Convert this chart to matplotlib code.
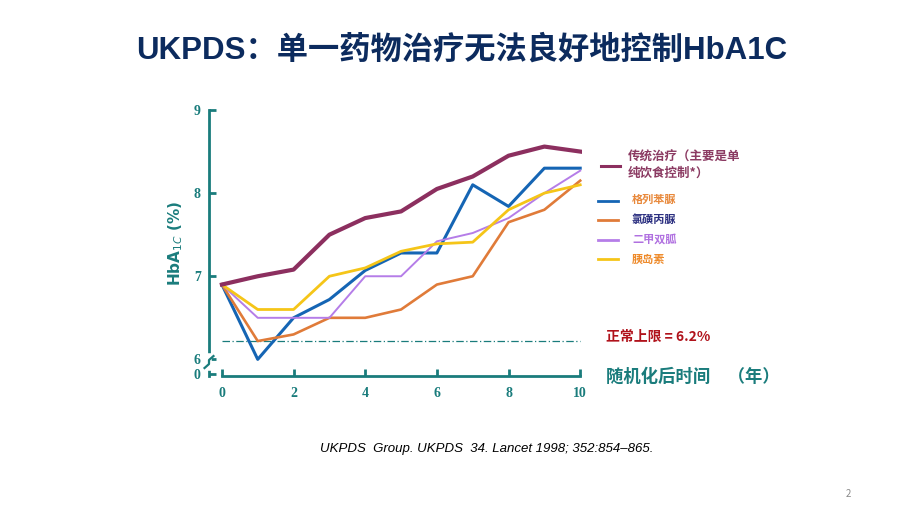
import matplotlib.pyplot as plt
import numpy as np

plt.rcParams['font.family'] = ['Noto Sans CJK SC', 'DejaVu Sans']

# data
years = [0, 1, 2, 3, 4, 5, 6, 7, 8, 9, 10]
conventional = [6.9, 7.0, 7.08, 7.5, 7.7, 7.78, 8.05, 8.2, 8.45, 8.56, 8.5]
glibenclamide = [6.9, 6.0, 6.5, 6.72, 7.07, 7.28, 7.28, 8.1, 7.84, 8.3, 8.3]
chlorpropamide = [6.9, 6.22, 6.3, 6.5, 6.5, 6.6, 6.9, 7.0, 7.65, 7.8, 8.15]
metformin = [6.9, 6.5, 6.5, 6.5, 7.0, 7.0, 7.42, 7.52, 7.7, 8.0, 8.27]
insulin = [6.9, 6.6, 6.6, 7.0, 7.1, 7.3, 7.39, 7.41, 7.8, 8.0, 8.1]
normal_upper = 6.22

x_ticks = [0, 2, 4, 6, 8, 10]
y_ticks = [5.82, 6, 7, 8, 9]
y_tick_labels = ['0', '6', '7', '8', '9']

teal = '#1a7c7c'
c_conv = '#8c2f5f'
c_glib = '#1565b4'
c_chlor = '#e07b39'
c_met = '#b57de8'
c_ins = '#f5c518'

fig = plt.figure(figsize=(9.2, 5.17), dpi=100)
ax = fig.add_axes([209 / 920, 1 - 376 / 517, 373 / 920, 266 / 517])

ax.plot(years, [normal_upper] * len(years), color=teal, lw=0.9, ls=(0, (6, 2, 1, 2)))
ax.plot(years, glibenclamide, color=c_glib, lw=2.2, zorder=3)
ax.plot(years, chlorpropamide, color=c_chlor, lw=1.9, zorder=3)
ax.plot(years, metformin, color=c_met, lw=1.4, zorder=3)
ax.plot(years, insulin, color=c_ins, lw=2.0, zorder=4)
ax.plot(years, conventional, color=c_conv, lw=3.0, zorder=5)

ax.set_xlim(-0.36, 10.05)
ax.set_ylim(5.8, 9.0)
for s in ['top', 'right']:
    ax.spines[s].set_visible(False)
ax.spines['left'].set_color(teal)
ax.spines['bottom'].set_color(teal)
ax.spines['left'].set_linewidth(2)
ax.spines['bottom'].set_linewidth(2)
ax.spines['bottom'].set_bounds(0, 10)

ax.set_xticks(x_ticks)
ax.set_yticks(y_ticks)
ax.set_yticklabels(y_tick_labels)
ax.tick_params(axis='both', direction='in', color=teal, width=2, length=5,
               labelcolor=teal, labelsize=10)
ax.tick_params(axis='y', pad=6)
ax.tick_params(axis='x', pad=8)
for lab in ax.get_xticklabels() + ax.get_yticklabels():
    lab.set_fontfamily('Liberation Serif')
    lab.set_fontweight('bold')

# axis break mark
ax.plot([0.0, 0.0], [0.03, 0.075], transform=ax.transAxes, color='white', lw=4, clip_on=False, zorder=6)
ax.plot([-0.012, 0.0, 0.0, 0.012], [0.03, 0.045, 0.06, 0.075], transform=ax.transAxes,
        color=teal, lw=1.6, clip_on=False, zorder=7)

ax.text(-0.09, 0.5, 'HbA$_{1C}$ (%)', transform=ax.transAxes, rotation=90,
        ha='center', va='center', color=teal, fontsize=11, fontweight='bold',
        family='DejaVu Sans')

# legend
def leg_line(y, color, x0=598, x1=618, lw=2.0):
    fig.add_artist(plt.Line2D([x0 / 920, x1 / 920], [1 - y / 517, 1 - y / 517],
                              color=color, lw=lw))

leg_line(166, c_conv, 601, 620, 2.2)
fig.text(628 / 920, 1 - 157 / 517, '传统治疗（主要是单', color='#8b3a62', fontsize=9,
         fontweight='bold', va='center')
fig.text(628 / 920, 1 - 173 / 517, '纯饮食控制*）', color='#8b3a62', fontsize=9,
         fontweight='bold', va='center')
leg_line(201, c_glib)
fig.text(632 / 920, 1 - 199 / 517, '格列苯脲', color='#e8883a', fontsize=8,
         fontweight='bold', va='center')
leg_line(220, c_chlor)
fig.text(632 / 920, 1 - 219 / 517, '氯磺丙脲', color='#2b2f80', fontsize=8,
         fontweight='bold', va='center')
leg_line(240, c_met)
fig.text(632 / 920, 1 - 239 / 517, '二甲双胍', color='#b070e0', fontsize=8,
         fontweight='bold', va='center')
leg_line(259, c_ins)
fig.text(632 / 920, 1 - 259 / 517, '胰岛素', color='#ee8a2a', fontsize=8,
         fontweight='bold', va='center')

fig.text(606 / 920, 1 - 337 / 517, '正常上限 = 6.2%', color='#b0121b', fontsize=10,
         fontweight='bold', va='center')
fig.text(606 / 920, 1 - 377 / 517, '随机化后时间　（年）', color=teal, fontsize=12.5,
         fontweight='bold', va='center')

fig.text(462 / 920, 1 - 50 / 517, 'UKPDS：单一药物治疗无法良好地控制HbA1C', color='#0c2b5e',
         fontsize=22.5, fontweight='bold', ha='center', va='center',
         family=['Liberation Sans', 'Noto Sans CJK SC'])

fig.text(487 / 920, 1 - 449 / 517, 'UKPDS  Group. UKPDS  34. Lancet 1998; 352:854–865.',
         family='Liberation Sans', style='italic', fontsize=9.5, ha='center', va='center',
         color='black')
fig.text(848 / 920, 1 - 494 / 517, '2', color='#8a8a8a', fontsize=7, ha='center', va='center')

fig.savefig('out.png', dpi=100)
